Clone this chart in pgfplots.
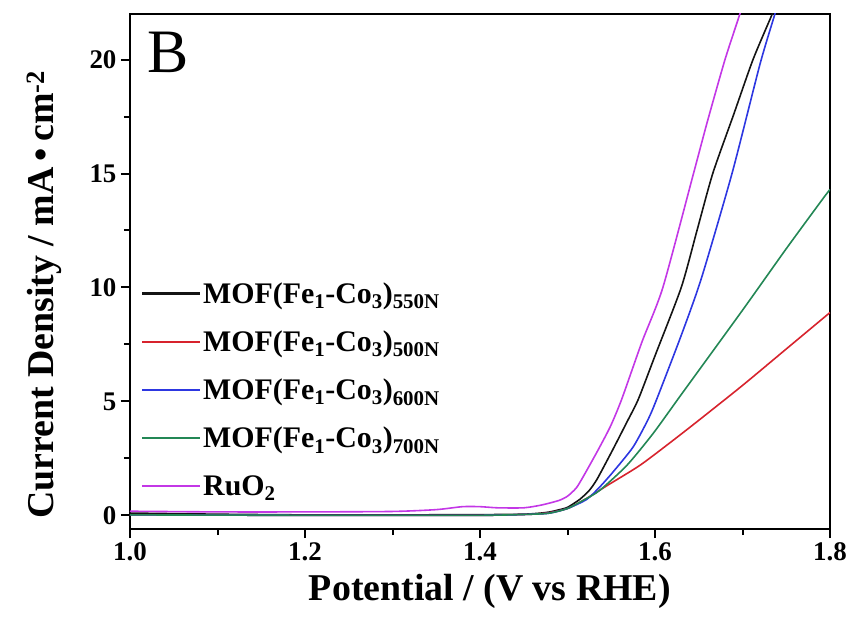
\documentclass[border=0pt]{standalone}
\usepackage{fontspec}
\setmainfont{Liberation Serif}
\usepackage{pgfplots}
\pgfplotsset{compat=1.18}

\definecolor{cblack}{RGB}{20,20,20}
\definecolor{cred}{RGB}{215,35,45}
\definecolor{cblue}{RGB}{45,55,225}
\definecolor{cgreen}{RGB}{35,135,85}
\definecolor{cmag}{RGB}{195,55,230}

\begin{document}
\begin{tikzpicture}
\useasboundingbox (-130bp,-94bp) rectangle (720bp,529bp);
\begin{axis}[
  at={(0,0)}, anchor=south west,
  width=700bp, height=515bp, scale only axis,
  xmin=1.0, xmax=1.8, ymin=-0.6, ymax=22,
  xtick={1.0,1.2,1.4,1.6,1.8}, minor xtick={1.1,1.3,1.5,1.7},
  ytick={0,5,10,15,20}, minor ytick={2.5,7.5,12.5,17.5},
  xtick pos=bottom, ytick pos=left, tick align=outside,
  major tick length=9bp, minor tick length=6bp,
  line width=2.5bp,
  tick style={line width=2bp, black},
  /pgf/number format/assume math mode=true,
  xticklabel style={/pgf/number format/.cd, fixed, fixed zerofill, precision=1},
  ticklabel style={font=\fontsize{27}{30}\selectfont\bfseries},
  legend style={at={(rel axis cs:0.014,0.485)}, anchor=north west, draw=none, fill=none,
    font=\fontsize{30}{32}\selectfont\bfseries, row sep=22bp, inner sep=0pt,
    cells={anchor=west}},
  legend image code/.code={\draw[#1, line width=2.2bp, sharp plot] plot coordinates {(0bp,0bp) (29bp,0bp) (58bp,0bp)};},
  every axis plot/.append style={line width=1.6bp, smooth, tension=0.4},
  clip mode=individual,
]
\addplot[color=cblack] coordinates {
(1.00,0.10) (1.10,0.05) (1.20,0.02) (1.30,0.02) (1.40,0.03) (1.45,0.05) (1.47,0.1) (1.48,0.15)
(1.49,0.24) (1.50,0.35) (1.514,0.7) (1.525,1.1) (1.534,1.6) (1.552,2.9) (1.568,4.1) (1.581,5.1) (1.60,7.0)
(1.63,10.0) (1.648,12.5) (1.666,15.0) (1.69,17.6) (1.712,20.0) (1.734,22.0) (1.74,22.6)
};
\addlegendentry{MOF(Fe\textsubscript{1}-Co\textsubscript{3})\textsubscript{550N}}
\addplot[color=cred] coordinates {
(1.00,0.02) (1.20,0.0) (1.40,0.0) (1.46,0.05) (1.48,0.12) (1.50,0.3) (1.52,0.7)
(1.545,1.3) (1.583,2.2) (1.621,3.3) (1.651,4.2) (1.70,5.7) (1.75,7.3) (1.80,8.9)
};
\addlegendentry{MOF(Fe\textsubscript{1}-Co\textsubscript{3})\textsubscript{500N}}
\addplot[color=cblue] coordinates {
(1.00,0.02) (1.20,0.0) (1.40,0.0) (1.46,0.05) (1.48,0.1) (1.50,0.3) (1.522,0.7) (1.537,1.25)
(1.552,1.9) (1.575,3.0) (1.592,4.2) (1.602,5.1) (1.63,7.9) (1.653,10.4) (1.688,15.0)
(1.72,19.8) (1.737,22.0) (1.74,22.5)
};
\addlegendentry{MOF(Fe\textsubscript{1}-Co\textsubscript{3})\textsubscript{600N}}
\addplot[color=cgreen] coordinates {
(1.00,0.02) (1.20,0.0) (1.40,0.0) (1.46,0.05) (1.48,0.1) (1.50,0.3) (1.52,0.7)
(1.537,1.1) (1.568,2.2) (1.598,3.6) (1.63,5.3) (1.70,9.0) (1.75,11.7)
(1.792,13.9) (1.80,14.3)
};
\addlegendentry{MOF(Fe\textsubscript{1}-Co\textsubscript{3})\textsubscript{700N}}
\addplot[color=cmag] coordinates {
(1.00,0.18) (1.10,0.15) (1.20,0.15) (1.30,0.17) (1.35,0.25) (1.38,0.38) (1.40,0.38)
(1.42,0.33) (1.45,0.33) (1.47,0.45) (1.49,0.65) (1.50,0.84) (1.51,1.2) (1.518,1.7) (1.534,2.8)
(1.549,3.9) (1.562,5.1) (1.585,7.6) (1.609,10.0) (1.644,15.0) (1.66,17.3) (1.68,20.0) (1.697,22.0) (1.70,22.4)
};
\addlegendentry{RuO\textsubscript{2}}
\node[anchor=west, font=\fontsize{62}{62}\selectfont] at (rel axis cs:0.018,0.925) {B};
\node[rotate=90, font=\fontsize{38}{40}\selectfont\bfseries] at (rel axis cs:-0.123,0.455) {Current Density / mA\,•\,cm\textsuperscript{-2}};
\node[font=\fontsize{38}{40}\selectfont\bfseries] at (rel axis cs:0.514,-0.122) {Potential / (V vs RHE)};
\end{axis}
\end{tikzpicture}
\end{document}
